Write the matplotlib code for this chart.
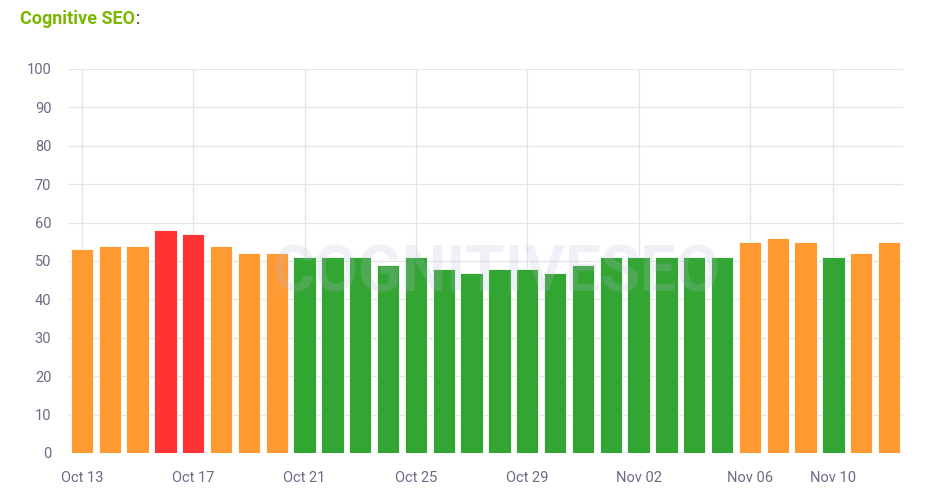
import matplotlib
matplotlib.use("Agg")
import matplotlib.pyplot as plt

plt.rcParams["font.family"] = ["Roboto", "DejaVu Sans"]

# one bar per day; Nov 08 not present in the data
dates = ["Oct 13", "Oct 14", "Oct 15", "Oct 16", "Oct 17", "Oct 18", "Oct 19", "Oct 20",
         "Oct 21", "Oct 22", "Oct 23", "Oct 24", "Oct 25", "Oct 26", "Oct 27", "Oct 28",
         "Oct 29", "Oct 30", "Oct 31", "Nov 01", "Nov 02", "Nov 03", "Nov 04", "Nov 05",
         "Nov 06", "Nov 07", "Nov 09", "Nov 10", "Nov 11", "Nov 12"]
scores = [53, 54, 54, 58, 57, 54, 52, 52,
          51, 51, 51, 49, 51, 48, 47, 48, 48, 47, 49, 51,
          51, 51, 51, 51,
          55, 56, 55, 51, 52, 55]
shown_labels = ["Oct 13", "Oct 17", "Oct 21", "Oct 25", "Oct 29", "Nov 02", "Nov 06", "Nov 10"]

def bar_color(v):
    if v > 56:
        return "#ff3333"
    if v > 51:
        return "#ff9a33"
    return "#33a532"

colors = [bar_color(v) for v in scores]

fig = plt.figure(figsize=(9.3, 4.91), dpi=100)
ax = fig.add_axes([68 / 930, (491 - 453) / 491, (903 - 68) / 930, (453 - 69) / 491])

x = list(range(len(dates)))
ax.bar(x, scores, width=0.8, color=colors, edgecolor="#ffffff", linewidth=0.6, zorder=2)

ticks = [dates.index(d) for d in shown_labels]
ax.set_xticks(ticks)
ax.set_xticklabels(shown_labels)
ax.set_xlim(-0.5, 29.5)
ax.set_ylim(0, 100)
ax.set_yticks(range(0, 101, 10))

ax.grid(True, color="#e4e4ec", linewidth=0.9, zorder=0)
ax.set_axisbelow(True)
for s in ax.spines.values():
    s.set_visible(False)
ax.tick_params(length=0, colors="#6b6b85", labelsize=10.5)
ax.tick_params(axis="x", pad=13)
ax.tick_params(axis="y", pad=12)

# faint watermark over the plot
ax.text(0.513, 0.465, "COGNITIVESEO", transform=ax.transAxes, ha="center", va="center",
        fontsize=46, fontweight="bold", color="#b8bdd8", alpha=0.2, zorder=3)

title = fig.text(20 / 930, 1 - 19 / 491, "Cognitive SEO", color="#7ab800", fontsize=13,
                 fontweight="bold", va="center", ha="left")
fig.canvas.draw()
bb = title.get_window_extent()
fig.text(bb.x1 / 930 + 0.001, 1 - 19 / 491, ":", color="#333333", fontsize=13,
         va="center", ha="left")

fig.savefig("out.png", dpi=100, facecolor="white")
